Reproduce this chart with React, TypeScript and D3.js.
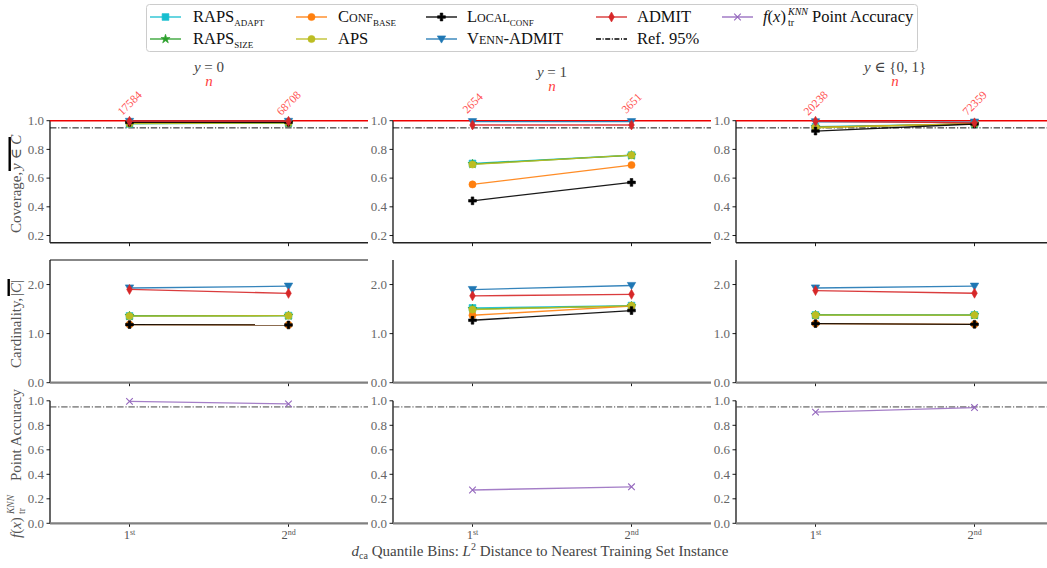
import React from 'react';
import * as d3 from 'd3';

// ---------- data ----------
const bins = ['1', '2'];
const binSup = ['st', 'nd'];
const nCounts = [[17584, 68708], [2654, 3651], [20238, 72359]];

const covRapsAdapt = [[0.978, 0.984], [0.702, 0.76], [0.958, 0.977]];
const covRapsSize = [[0.982, 0.986], [0.698, 0.758], [0.955, 0.978]];
const covConfBase = [[0.99, 0.99], [0.556, 0.691], [0.953, 0.98]];
const covAps = [[0.98, 0.984], [0.695, 0.76], [0.951, 0.98]];
const covLocal = [[0.988, 0.989], [0.442, 0.57], [0.928, 0.977]];
const covVenn = [[0.995, 0.995], [0.993, 0.993], [0.992, 0.99]];
const covAdmit = [[0.996, 0.996], [0.97, 0.97], [0.996, 0.985]];
const covAdmitErr = [[0.02, 0.02], [0.025, 0.025], [0.015, 0.015]];

const cardRapsAdapt = [[1.36, 1.367], [1.524, 1.571], [1.38, 1.38]];
const cardRapsSize = [[1.36, 1.365], [1.5, 1.56], [1.38, 1.378]];
const cardConfBase = [[1.185, 1.178], [1.374, 1.56], [1.205, 1.19]];
const cardAps = [[1.358, 1.366], [1.49, 1.565], [1.378, 1.378]];
const cardLocal = [[1.184, 1.177], [1.272, 1.47], [1.204, 1.19]];
const cardVenn = [[1.93, 1.966], [1.898, 1.98], [1.93, 1.966]];
const cardAdmit = [[1.9, 1.82], [1.77, 1.8], [1.878, 1.823]];
const cardAdmitErr = [[0.05, 0.05], [0.05, 0.05], [0.05, 0.05]];

const accKnn = [[0.995, 0.975], [0.272, 0.298], [0.907, 0.945]];

const refLevel = 0.95;
const covTicks = [0.2, 0.4, 0.6, 0.8, 1.0];
const cardTicks = [0.0, 1.0, 2.0];
const accTicks = [0.0, 0.2, 0.4, 0.6, 0.8, 1.0];

type Series = { key: string; color: string; marker: string; cov: number[][]; card: number[][]; covErr?: number[][]; cardErr?: number[][] };
const series: Series[] = [
  { key: 'rapsAdapt', color: '#17becf', marker: 'square', cov: covRapsAdapt, card: cardRapsAdapt },
  { key: 'rapsSize', color: '#2ca02c', marker: 'star', cov: covRapsSize, card: cardRapsSize },
  { key: 'confBase', color: '#ff7f0e', marker: 'circle', cov: covConfBase, card: cardConfBase },
  { key: 'aps', color: '#bcbd22', marker: 'circle', cov: covAps, card: cardAps },
  { key: 'local', color: '#000000', marker: 'plus', cov: covLocal, card: cardLocal },
  { key: 'venn', color: '#1f77b4', marker: 'tri', cov: covVenn, card: cardVenn },
  { key: 'admit', color: '#d62728', marker: 'diamond', cov: covAdmit, card: cardAdmit, covErr: covAdmitErr, cardErr: cardAdmitErr },
];

// ---------- layout ----------
const FONT = 'Liberation Serif, Times New Roman, Times, DejaVu Serif, serif';
const colLeft = [50, 393, 736];
const panelW = 318;
const rows = [
  { top: 120.7, bottom: 242.7, domain: [0.15, 1.0], ticks: covTicks, fmt: '.1f' },
  { top: 260, bottom: 382.7, domain: [0, 2.5], ticks: cardTicks, fmt: '.1f' },
  { top: 400.8, bottom: 523.3, domain: [0, 1.0], ticks: accTicks, fmt: '.1f' },
];
const titleBase = [72, 77, 72];

function markerPath(m: string): string {
  const s = d3.symbol();
  switch (m) {
    case 'square': return s.type(d3.symbolSquare).size(46)() as string;
    case 'star': return s.type(d3.symbolStar).size(26)() as string;
    case 'circle': return s.type(d3.symbolCircle).size(40)() as string;
    case 'plus': return s.type(d3.symbolCross).size(34)() as string;
    case 'tri': return 'M-4.2,-3.1L4.2,-3.1L0,4.1Z';
    case 'diamond': return 'M0,-5L2.8,0L0,5L-2.8,0Z';
    case 'x': return s.type(d3.symbolX).size(30)() as string;
  }
  return '';
}

function Marker({ m, color, x, y }: { m: string; color: string; x: number; y: number }) {
  if (m === 'x') {
    return <path d={markerPath(m)} transform={`translate(${x},${y})`} fill="none" stroke={color} strokeWidth={1.1} />;
  }
  return <path d={markerPath(m)} transform={`translate(${x},${y})`} fill={color} stroke={color} strokeWidth={0.6} />;
}

function Panel({ ci, ri }: { ci: number; ri: number }) {
  const row = rows[ri];
  const x0 = colLeft[ci];
  const x = d3.scaleLinear().domain([-0.5, 1.5]).range([x0, x0 + panelW]);
  const y = d3.scaleLinear().domain(row.domain).range([row.bottom, row.top]);
  const fmt = d3.format(row.fmt);
  const idx = [0, 1];
  const line = d3.line<number>().x((_, i) => x(i)).y(v => y(v));
  const dash = '6.4,1.8,1.2,1.8';
  return (
    <g>
      {row.ticks.map(t => (
        <g key={t}>
          <line x1={x0 - 3.5} x2={x0} y1={y(t)} y2={y(t)} stroke="#000" strokeWidth={0.9} />
          <text x={x0 - 6} y={y(t)} dy="0.33em" textAnchor="end" fontSize={13} fill="#666" fontFamily={FONT}>{fmt(t)}</text>
        </g>
      ))}
      {idx.map(i => (
        <g key={i}>
          <line x1={x(i)} x2={x(i)} y1={row.bottom} y2={row.bottom + 3.5} stroke="#000" strokeWidth={0.9} />
          {ri === 2 && (
            <text x={x(i)} y={row.bottom + 16} textAnchor="middle" fontSize={12.5} fill="#555" fontFamily={FONT}>
              {bins[i]}<tspan fontSize={8} dy={-4}>{binSup[i]}</tspan>
            </text>
          )}
        </g>
      ))}
      <line x1={x0} x2={x0} y1={row.top} y2={row.bottom} stroke="#000" strokeWidth={1.2} />
      {ri === 0 && <line x1={x0} x2={x0 + panelW} y1={row.bottom} y2={row.bottom} stroke="#222" strokeWidth={1.6} />}
      {ri > 0 && <line x1={x0} x2={x0 + panelW} y1={row.bottom} y2={row.bottom} stroke="#808080" strokeWidth={2.2} />}
      {ri === 1 && ci === 0 && <line x1={x0} x2={x0 + panelW} y1={row.top} y2={row.top} stroke="#111" strokeWidth={1.2} />}

      {ri === 0 && <line x1={x0} x2={x0 + panelW} y1={y(1.0)} y2={y(1.0)} stroke="#ee0000" strokeWidth={1.4} />}
      {ri !== 1 && <line x1={x0} x2={x0 + panelW} y1={y(refLevel)} y2={y(refLevel)} stroke={ri === 0 ? '#111' : '#444'} strokeWidth={1} strokeDasharray={dash} />}

      {ri < 2 && series.map(s => {
        const vals = ri === 0 ? s.cov[ci] : s.card[ci];
        const err = ri === 0 ? s.covErr?.[ci] : s.cardErr?.[ci];
        return (
          <g key={s.key}>
            <path d={line(vals) as string} fill="none" stroke={s.color} strokeWidth={1.3} strokeOpacity={0.9} />
            {err && vals.map((v, i) => (
              <line key={'e' + i} x1={x(i)} x2={x(i)} y1={y(v - err[i])} y2={y(v + err[i])} stroke={s.color} strokeWidth={1.3} />
            ))}
            {vals.map((v, i) => <Marker key={i} m={s.marker} color={s.color} x={x(i)} y={y(v)} />)}
          </g>
        );
      })}
      {ri === 2 && (
        <g>
          <path d={line(accKnn[ci]) as string} fill="none" stroke="#9467bd" strokeWidth={1.3} strokeOpacity={0.85} />
          {accKnn[ci].map((v, i) => <Marker key={i} m="x" color="#9467bd" x={x(i)} y={y(v)} />)}
        </g>
      )}

      {ri === 0 && idx.map(i => (
        <text key={'n' + i} transform={`translate(${x(i)},${103}) rotate(-45)`} textAnchor="middle" dy="0.35em" fontSize={11.5} fill="#ff5050" fontFamily={FONT}>{nCounts[ci][i]}</text>
      ))}
    </g>
  );
}

function Title({ ci }: { ci: number }) {
  const cx = colLeft[ci] + panelW / 2;
  const b = titleBase[ci];
  let content: React.ReactNode;
  if (ci === 0) content = <><tspan fontStyle="italic">y</tspan> = 0</>;
  else if (ci === 1) content = <><tspan fontStyle="italic">y</tspan> = 1</>;
  else content = <><tspan fontStyle="italic">y</tspan> ∈ {'{'}0, 1{'}'}</>;
  return (
    <g fontFamily={FONT}>
      <text x={cx} y={b} textAnchor="middle" fontSize={15} fill="#444">{content}</text>
      <text x={cx} y={b + 14} textAnchor="middle" fontSize={15} fill="#ff4040" fontStyle="italic">n</text>
    </g>
  );
}

function LegendHandle({ x, y, color, m, dashed }: { x: number; y: number; color: string; m?: string; dashed?: boolean }) {
  return (
    <g>
      <line x1={x} x2={x + 31} y1={y} y2={y} stroke={color} strokeWidth={1.3} strokeDasharray={dashed ? '5,1.6,1,1.6' : undefined} />
      {m && <Marker m={m} color={color} x={x + 15.5} y={y} />}
    </g>
  );
}

function Legend() {
  const r1 = 17, r2 = 39;
  const fs = 16.5;
  const sub = { fontSize: 9, dy: 4 };
  return (
    <g fontFamily={FONT} fill="#111">
      <rect x={146.5} y={4.5} width={771} height={47} rx={3} fill="#fff" stroke="#ccc" strokeWidth={1} />
      <LegendHandle x={150} y={r1} color="#17becf" m="square" />
      <text x={193} y={r1 + 5} fontSize={fs}>RAPS<tspan fontSize={sub.fontSize} dy={sub.dy}>ADAPT</tspan></text>
      <LegendHandle x={150} y={r2} color="#2ca02c" m="star" />
      <text x={193} y={r2 + 5} fontSize={fs}>RAPS<tspan fontSize={sub.fontSize} dy={sub.dy}>SIZE</tspan></text>

      <LegendHandle x={296} y={r1} color="#ff7f0e" m="circle" />
      <text x={338} y={r1 + 5} fontSize={fs}><tspan style={{ fontVariant: 'small-caps' }}>Conf</tspan><tspan fontSize={sub.fontSize} dy={sub.dy}>BASE</tspan></text>
      <LegendHandle x={296} y={r2} color="#bcbd22" m="circle" />
      <text x={338} y={r2 + 5} fontSize={fs}>APS</text>

      <LegendHandle x={426} y={r1} color="#000" m="plus" />
      <text x={467} y={r1 + 5} fontSize={fs}><tspan style={{ fontVariant: 'small-caps' }}>Local</tspan><tspan fontSize={sub.fontSize} dy={sub.dy}>CONF</tspan></text>
      <LegendHandle x={426} y={r2} color="#1f77b4" m="tri" />
      <text x={467} y={r2 + 5} fontSize={fs} style={{ fontVariant: 'small-caps' }}>Venn-ADMIT</text>

      <LegendHandle x={596} y={r1} color="#d62728" m="diamond" />
      <text x={637} y={r1 + 5} fontSize={fs}>ADMIT</text>
      <LegendHandle x={596} y={r2} color="#000" dashed />
      <text x={637} y={r2 + 5} fontSize={fs}>Ref. 95%</text>

      <LegendHandle x={722} y={r1} color="#9467bd" m="x" />
      <text x={763} y={r1 + 5} fontSize={fs}>
        <tspan fontStyle="italic">f</tspan>(<tspan fontStyle="italic">x</tspan>)
      </text>
      <text x={788} y={r1 + 9} fontSize={10}>tr</text>
      <text x={788} y={r1 - 2} fontSize={10} fontStyle="italic">KNN</text>
      <text x={812} y={r1 + 5} fontSize={fs}>Point Accuracy</text>
    </g>
  );
}

function YLabels() {
  return (
    <g fontFamily={FONT} fill="#555" fontSize={15}>
      <g transform="translate(21,233) rotate(-90)">
        <text x={0} y={0}>Coverage,</text>
        <text x={63} y={0}><tspan fontStyle="italic">y</tspan> ∈ <tspan fontStyle="italic">C</tspan></text>
        <rect x={62} y={-12.5} width={34} height={2.4} fill="#000" />
      </g>
      <g transform="translate(21,368) rotate(-90)">
        <text x={0} y={0}>Cardinality,</text>
        <text x={72} y={0}>|<tspan fontStyle="italic">C</tspan>|</text>
        <rect x={72} y={-13.5} width={17} height={2.4} fill="#000" />
      </g>
      <g transform="translate(21,538) rotate(-90)">
        <text x={0} y={0}><tspan fontStyle="italic">f</tspan>(<tspan fontStyle="italic">x</tspan>)</text>
        <text x={24} y={4} fontSize={9.5}>tr</text>
        <text x={24} y={-7} fontSize={9.5} fontStyle="italic">KNN</text>
        <text x={57} y={0}>Point Accuracy</text>
      </g>
    </g>
  );
}

export default function App() {
  return (
    <svg width={1047} height={568} style={{ position: 'absolute', left: 0, top: 0, background: '#fff' }}>
      <rect width={1047} height={568} fill="#fff" />
      <Legend />
      {[0, 1, 2].map(ci => <Title key={ci} ci={ci} />)}
      {[0, 1, 2].map(ci => [0, 1, 2].map(ri => <Panel key={`${ci}-${ri}`} ci={ci} ri={ri} />))}
      <YLabels />
      <text x={540} y={556} textAnchor="middle" fontSize={15} fill="#444" fontFamily={FONT}>
        <tspan fontStyle="italic">d</tspan><tspan fontSize={10} dy={3}>ca</tspan><tspan dy={-3}> Quantile Bins: </tspan><tspan fontStyle="italic">L</tspan><tspan fontSize={10} dy={-6}>2</tspan><tspan dy={6}> Distance to Nearest Training Set Instance</tspan>
      </text>
    </svg>
  );
}
